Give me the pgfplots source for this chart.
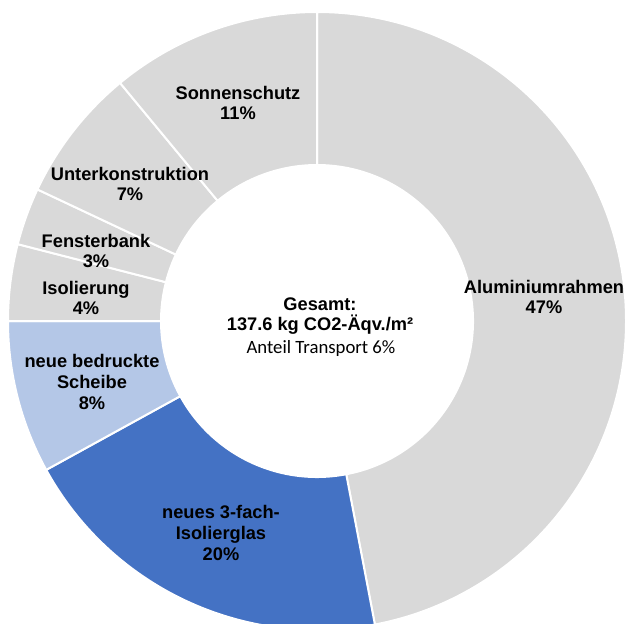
\documentclass[border=0pt]{standalone}
\usepackage{pgfplots}
\pgfplotsset{compat=1.18}
\usepackage{fontspec}
\setmainfont{Liberation Sans}
\newfontfamily\calfont{Carlito}
\definecolor{sgrey}{HTML}{D9D9D9}
\definecolor{sblue}{HTML}{4472C4}
\definecolor{slblue}{HTML}{B4C7E7}
\begin{document}
\begin{tikzpicture}
\def\Rout{309}
\def\Rin{156}
\begin{axis}[
  name=ax,
  scale only axis, width=250pt, height=249.2pt,
  xmin=-317, xmax=308, ymin=-302, ymax=321,
  hide axis, clip=true,
]
\xdef\cum{0}
\foreach \v/\c in {47/sgrey, 20/sblue, 8/slblue, 4/sgrey, 3/sgrey, 7/sgrey, 11/sgrey} {
  \pgfmathsetmacro\aone{90-3.6*\cum}
  \pgfmathsetmacro\atwo{90-3.6*(\cum+\v)}
  \pgfmathsetmacro\xa{\Rin*cos(\aone)}
  \pgfmathsetmacro\ya{\Rin*sin(\aone)}
  \pgfmathsetmacro\xc{\Rout*cos(\aone)}
  \pgfmathsetmacro\yc{\Rout*sin(\aone)}
  \pgfmathsetmacro\xd{\Rin*cos(\atwo)}
  \pgfmathsetmacro\yd{\Rin*sin(\atwo)}
  \edef\tmp{\noexpand\fill[fill=\c, draw=white, line width=0.8pt, line join=round]
    (axis cs:\xa,\ya) -- (axis cs:\xc,\yc)
    arc[start angle=\aone, end angle=\atwo, radius=\Rout]
    -- (axis cs:\xd,\yd)
    arc[start angle=\atwo, end angle=\aone, radius=\Rin] -- cycle;}
  \tmp
  \pgfmathsetmacro\newcum{\cum+\v}
  \xdef\cum{\newcum}
}
\begin{scope}[every node/.style={align=center, font=\fontsize{7.3}{8.3}\selectfont\bfseries, text=black, inner sep=1pt}]
\node at (axis cs:227,24) {Aluminiumrahmen\\47\%};
\node at (axis cs:-96,-212) {neues 3-fach-\\Isolierglas\\20\%};
\node at (axis cs:-225,-61) {neue bedruckte\\Scheibe\\8\%};
\node at (axis cs:-231,23) {Isolierung\\4\%};
\node at (axis cs:-221,70) {Fensterbank\\3\%};
\node at (axis cs:-187,137) {Unterkonstruktion\\7\%};
\node at (axis cs:-79,218) {Sonnenschutz\\11\%};
\node at (axis cs:3,5) {Gesamt:\\137.6 kg CO2-Äqv./m²};
\end{scope}
\node[font=\calfont\fontsize{7.5}{9}\selectfont, text=black] at (axis cs:4,-27) {Anteil Transport 6\%};
\end{axis}
\pgfresetboundingbox
\useasboundingbox (ax.south west) rectangle (ax.north east);
\end{tikzpicture}
\end{document}
